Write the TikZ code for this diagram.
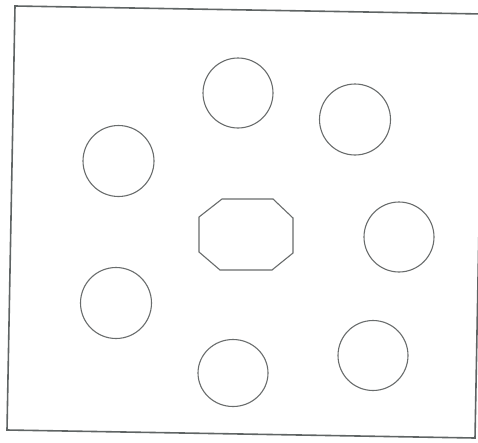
\documentclass[tikz,border=0pt]{standalone}
\definecolor{inkgray}{RGB}{105,108,108}
\definecolor{framegray}{RGB}{95,100,100}
\tikzset{
  shapeline/.style={draw=inkgray, line width=1.1pt},
  frameline/.style={draw=framegray, line width=1.6pt},
}
\begin{document}
\begin{tikzpicture}[x=1pt,y=-1pt]
\useasboundingbox (0,0) rectangle (478,442);
\begin{scope}
\clip (0,0) rectangle (478,442);
% frame (slightly rotated, as scanned)
\draw[frameline] (15,6) -- (483,14) -- (475,438) -- (7,430) -- cycle;
\end{scope}
% circles
\node[shapeline, circle, minimum size=70pt, inner sep=0pt] (ctop) at (238,93) {};
\node[shapeline, circle, minimum size=71pt, inner sep=0pt] (ctopright) at (355,119.5) {};
\node[shapeline, circle, minimum size=71pt, inner sep=0pt] (cleft) at (118.5,161) {};
\node[shapeline, circle, minimum size=70pt, inner sep=0pt] (cright) at (399,237) {};
\node[shapeline, circle, minimum size=71pt, inner sep=0pt] (cbotleft) at (116,303) {};
\draw[shapeline] (233,373) ellipse (35 and 33.5);
\node[shapeline, circle, minimum size=70pt, inner sep=0pt] (cbotright) at (373,355.5) {};
% octagon
\draw[shapeline] (222,199) -- (273,199) -- (293,218) -- (293,253) -- (272,270)
  -- (220,270) -- (199,252) -- (199,217) -- cycle;
\end{tikzpicture}
\end{document}
